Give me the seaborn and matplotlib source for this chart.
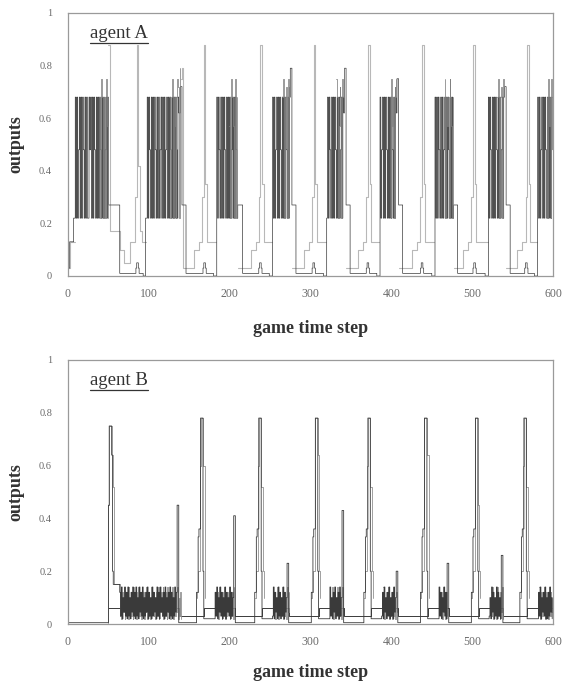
import numpy as np
import pandas as pd
import matplotlib
matplotlib.use("Agg")
import matplotlib.pyplot as plt
from matplotlib.lines import Line2D
import seaborn as sns

# ---------------------------------------------------------------- data
N_STEPS = 600
time_ticks = [0, 100, 200, 300, 400, 500, 600]
output_ticks = [0, 0.2, 0.4, 0.6, 0.8, 1.0]
output_tick_labels = ["0", "0.2", "0.4", "0.6", "0.8", "1"]
panel_titles = ["agent A", "agent B"]

# output levels used by agent A, one character per level
A_LEVELS = {
    "0": 0.0, "1": 0.01, "2": 0.03, "3": 0.05, "c": 0.10, "b": 0.13,
    "q": 0.17, "L": 0.22, "P": 0.27, "r": 0.30, "m": 0.35, "k": 0.42,
    "M": 0.48, "n": 0.57, "V": 0.62, "H": 0.68, "T": 0.72, "g": 0.75,
    "U": 0.79, "S": 0.88,
}

# agent A, first output: (first step, one code per step) or (start, stop, code)
a_dark = [
    (0, "22bbbbbLL"),
    (9, "HLHLMHLHLHMLHLHLLHMHLHLHMLHLHLHMLHLHLMHLH"),
    (50, "PPPPPPPPPPPPPP"),
    (64, "11111111111111111111" "2332" "11111" "000"),
    (96, "L"),
    (97, "LHLHMLHLHLHMLHLHLMHLHLHLMHLHLHMLHLHLHMLH"),
    (137, "VVTT"),
    (141, "PPPPP"),
    (146, "111111111111111111111" "2332" "111111111" "0000"),
    (184, "HLHMLHLHLHMLHLHLHLMHLHLHML"),
    (210, "PPPPPP"),
    (216, "11111111111111111111" "2332" "111111111" "0000"),
    (253, "HLHLMHLHLHMLHLHLHMLHLH"),
    (275, "UU"),
    (277, "PPPPP"),
    (282, "11111111111111111111" "2332" "1111111111" "0000"),
    (320, "LHLHMLHLHLHMLHLHLMHLHV"),
    (342, "UU"),
    (344, "PPPPP"),
    (349, "11111111111111111111" "2332" "111111111" "0000"),
    (386, "HLMHLHLHMLHLHLHMLHLHV"),
    (407, "gg"),
    (409, "PPPPP"),
    (414, "1111111111111111111111" "2332" "1111111111" "0000"),
    (454, "HLHLHMLHLHLMHLHLHMLHLHL"),
    (477, "PPPPP"),
    (482, "1111111111111111111" "2332" "11111111111" "0000"),
    (520, "HLHMLHLHLHMLHLHLMHLH"),
    (540, "TT"),
    (542, "PPPPP"),
    (547, "111111111111111111" "2332" "11111111" "0000"),
    (581, "HLHLMHLHLHMLHLHLHMH"),
]

# agent A, second output (late part of each active phase)
a_mid = [
    (38, "HnLgHLnHLgnL"),
    (125, "HLnHgLHnLHgTLU"),
    (199, "nHLgHnLHgLH"),
    (265, "HgLnHTLgHT"),
    (332, "gHLnTHLgHU"),
    (398, "HLgnHLTHg"),
    (466, "gLHnHLgHnLH"),
    (531, "HgLnHTLgT"),
    (592, "HLgnHLgH"),
]

# agent A, third output (rises between active phases)
a_light = [
    (0, "22bbbbbbbb"),
    (50, "SS"),
    (52, "qqqqqqqqqqqq"),
    (64, "ccccc33333333bbbbbbrr"),
    (85, "SSkkqqqbbbbb"),
    (140, "gU"),
    (142, "22222222222222" "cccccc" "bbbb" "rr" "SS" "mm" "bbbbbbbbbbbb"),
    (210, "2222222222222222" "cccccc" "bbbb" "rr" "SS" "mm" "bbbbbbbbbbb"),
    (277, "222222222222222" "cccccc" "bbbb" "rr" "SS" "mm" "bbbbbbbbbbbb"),
    (344, "222222222222222" "cccccc" "bbbb" "rr" "SS" "mm" "bbbbbbbbbbb"),
    (409, "22222222222222222" "cccccc" "bbbb" "rr" "SS" "mm" "bbbbbbbbbbbb"),
    (477, "222222222222" "cccccc" "bbbb" "rr" "SS" "mm" "bbbbbbbbbbbbbbb"),
    (542, "22222222222222" "cccccc" "bbbb" "rr" "SS" "mm" "bbbbbbbbb"),
]

# output levels used by agent B
B_LEVELS = {
    "0": 0.005, "1": 0.02, "2": 0.03, "3": 0.045, "6": 0.06, "8": 0.08,
    "a": 0.10, "b": 0.12, "c": 0.14, "f": 0.15, "q": 0.20, "r": 0.23,
    "s": 0.26, "m": 0.33, "n": 0.36, "k": 0.41, "x": 0.43, "y": 0.45,
    "p": 0.52, "u": 0.60, "v": 0.64, "w": 0.75, "z": 0.78,
}

# agent B, first output
b_dark = [
    (0, 50, "0"),
    (50, "ywwwvq"),
    (56, 64, "f"),
    (64, "b2c1a3c2b1c2a1b3c2b1c2a1c3b2c1a2b3c1b2a1c2b3a1c2b1c3a2b1c2a3b1c2b1a2c3b1a2c1"),
    (135, "yy"),
    (137, 159, "0"),
    (159, "bbmnnzzzq"),
    (168, 181, "1"),
    (181, "1b2c1a3c2b1a2c1b3a2c1b2a1c"),
    (205, "kk"),
    (207, 231, "0"),
    (231, "bbmnnzzzq"),
    (240, 253, "1"),
    (253, "2c1b3a1c2b1a2c1b3a2"),
    (271, "rr"),
    (273, 301, "0"),
    (301, "bbmnnzzzq"),
    (310, 323, "1"),
    (323, "1c2a1b3c1a2b1c2a1b"),
    (339, "xx"),
    (341, 366, "0"),
    (366, "bbmnnzzzq"),
    (375, 388, "1"),
    (388, "2b1c3a1b2c1a2b1c3a1"),
    (406, "qq"),
    (408, 436, "0"),
    (436, "bbmnnzzzq"),
    (445, 458, "1"),
    (458, "1c2b1a3c2b1a"),
    (469, "rr"),
    (471, 499, "0"),
    (499, "bbmnnzzzq"),
    (508, 521, "1"),
    (521, "2a1c3b1a2c1b2a1c"),
    (536, "ss"),
    (538, 559, "0"),
    (559, "bbmnnzzzq"),
    (568, 581, "1"),
    (581, "1b2c1a3b2c1a1b2c3a1b"),
]

# agent B, second output
b_light = [
    (49, "0ywwwvvpf"),
    (58, 64, "f"),
    (64, "2a1b3c1a2b1c3a2b1c2a1b3c2a1c2b1a3c1b2a1c3b2a1b2c1a3b2c1a2b1c3a1b2c1a2b3c1a2b1"),
    (159, "abqquzzzuuqa"),
    (183, "a2b1c3a1b2c1a2b3c1a2b1c"),
    (231, "abqquzzzppqa"),
    (255, "b1a2c1b3a2c1b2a1c3b"),
    (301, "abqquzzzvvqa"),
    (325, "a2c1b2a3c1b2a1c2"),
    (366, "abqquzzzppqa"),
    (390, "c1a2b3c1a2b1c2a1b3"),
    (436, "abqquzzzvvqa"),
    (460, "a2b1c3a1b2"),
    (499, "abqquzzzyyqa"),
    (523, "b2c1a3b1c2a1b3c1"),
    (559, "abqquzzzppqa"),
    (583, "c1b2a3c1b2a1c2b3a1b"),
]

# agent B, third output: level changes (step, value)
b_level_t = [50, 137, 168, 207, 240, 273, 310, 341, 375, 408, 445, 471, 508, 538, 568, 599]
b_level_v = [0.06, 0.03, 0.06, 0.03, 0.06, 0.03, 0.06, 0.03, 0.06, 0.03, 0.06, 0.03,
             0.06, 0.03, 0.06, 0.06]


def build(pieces, levels, n=N_STEPS):
    """Turn coded pieces into a per-step array (NaN where a trace is absent)."""
    vals = np.full(n, np.nan)
    for piece in pieces:
        if len(piece) == 3:
            start, stop, code = piece
            vals[start:stop] = levels[code]
        else:
            start, codes = piece
            seg = [levels[c] for c in codes][: n - start]
            vals[start:start + len(seg)] = seg
    return vals


def to_frame(values):
    """Long frame with one unit id per unbroken run of the trace."""
    t = np.arange(len(values))
    present = ~np.isnan(values)
    run_id = np.cumsum(np.r_[True, present[1:] != present[:-1]])
    df = pd.DataFrame({"t": t, "value": values, "run": run_id})
    return df[present]


# ---------------------------------------------------------------- style
sns.set_style("white")
plt.rcParams["font.family"] = ["Liberation Serif", "DejaVu Serif"]

FRAME = "#9a9a9a"
DARK = "#3a3a3a"
MID = "#808080"
LIGHT = "#b8b8b8"
TEXT = "#333333"

fig = plt.figure(figsize=(5.69, 6.84), dpi=100)
ax_a = fig.add_axes([0.1195, 0.5965, 0.8524, 0.3845])
ax_b = fig.add_axes([0.1195, 0.0877, 0.8524, 0.3860])


def draw_trace(ax, values, color, lw):
    df = to_frame(values)
    sns.lineplot(data=df, x="t", y="value", units="run", estimator=None,
                 color=color, linewidth=lw, drawstyle="steps-post",
                 sort=False, ax=ax, legend=False)


# agent A
draw_trace(ax_a, build(a_light, A_LEVELS), LIGHT, 0.8)
draw_trace(ax_a, build(a_dark, A_LEVELS), DARK, 0.5)
draw_trace(ax_a, build(a_mid, A_LEVELS), MID, 0.55)

# agent B
sns.lineplot(x=b_level_t, y=b_level_v, color=DARK, linewidth=0.7,
             drawstyle="steps-post", estimator=None, ax=ax_b)
draw_trace(ax_b, build(b_light, B_LEVELS), "#909090", 0.6)
draw_trace(ax_b, build(b_dark, B_LEVELS), DARK, 0.6)

titles = {}
for ax, title, xlab_y in ((ax_a, panel_titles[0], -0.168), (ax_b, panel_titles[1], -0.15)):
    ax.set_xlim(0, 600)
    ax.set_ylim(0, 1)
    ax.set_xticks(time_ticks)
    ax.set_xticklabels([str(v) for v in time_ticks])
    ax.set_yticks(output_ticks)
    ax.set_yticklabels(output_tick_labels)
    ax.tick_params(direction="out", length=2.5, width=0.6, color=FRAME,
                   labelcolor="#6a6a6a")
    ax.tick_params(axis="y", pad=9, labelsize=7.5)
    ax.tick_params(axis="x", pad=6, labelsize=8.5)
    for sp in ax.spines.values():
        sp.set_visible(True)
        sp.set_color(FRAME)
        sp.set_linewidth(0.9)
    ax.set_xlabel("game time step", fontsize=13, fontweight="bold", color=TEXT)
    ax.set_ylabel("outputs", fontsize=13, fontweight="bold", color=TEXT)
    ax.xaxis.set_label_coords(0.5, xlab_y)
    ax.yaxis.set_label_coords(-0.089, 0.5)
    titles[ax] = ax.text(0.045, 0.905, title, transform=ax.transAxes, fontsize=13.5,
                         color=TEXT, ha="left", va="baseline")

# underline the panel titles
fig.canvas.draw()
renderer = fig.canvas.get_renderer()
for ax, txt in titles.items():
    bb = txt.get_window_extent(renderer=renderer)
    inv = ax.transAxes.inverted()
    (x0, y0), (x1, y1) = inv.transform([[bb.x0, bb.y0], [bb.x1, bb.y1]])
    ax.add_line(Line2D([x0, x1], [y0 - 0.002, y0 - 0.002], transform=ax.transAxes,
                       color=TEXT, linewidth=0.9, clip_on=False))

fig.savefig("out.png", dpi=100, facecolor="white")
